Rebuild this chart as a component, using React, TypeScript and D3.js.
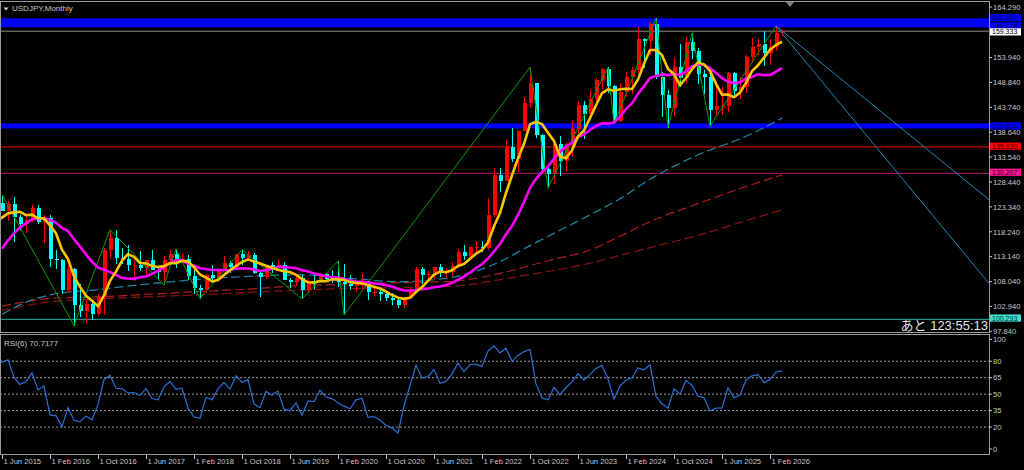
import React from 'react';
import * as d3 from 'd3';

// ---------- DATA (monthly USDJPY, starting Jun 2014; first visible bar Jun 2015) ----------
const firstMonth = '2014-06';
const opens = [
  101.8, 101.3, 102.8, 104.1, 109.6, 112.3, 118.6, 119.8, 117.5, 119.6, 120.1, 119.4,
  124.1, 122.5, 123.9, 121.2, 119.9, 120.6, 123.1, 120.2, 121.1, 112.7, 112.5, 106.3,
  110.7, 103.2, 102.0, 103.4, 101.3, 104.8, 114.4, 117.0, 112.8, 112.7, 111.4, 111.5,
  110.8, 112.4, 110.3, 110.0, 112.5, 113.7, 112.5, 112.7, 109.2, 106.7, 106.3, 109.3,
  108.8, 110.7, 111.9, 111.0, 113.7, 112.9, 113.4, 109.7, 108.9, 111.4, 110.8, 111.4,
  108.3, 107.9, 108.8, 106.3, 108.1, 108.0, 109.5, 108.6, 108.4, 107.9, 107.5, 107.2,
  107.8, 107.9, 105.9, 105.95, 105.5, 104.7, 104.3, 103.2, 104.7, 106.6, 110.7, 109.3,
  109.6, 111.1, 109.7, 110.0, 111.3, 114.0, 113.2, 115.1, 115.15, 115.0, 121.7, 129.8,
  128.7, 135.7, 133.2, 138.95, 144.7, 148.7, 138.1, 131.1, 130.1, 136.2, 132.8, 136.3,
  139.3, 144.3, 142.3, 145.5, 149.4, 151.65, 148.2, 141.0, 146.9, 150.0, 151.35, 157.8,
  157.3, 160.9, 150.0, 146.2, 143.6, 152.0, 149.7, 157.2, 155.2, 150.6, 149.9, 143.1,
  144.0, 144.05, 150.75, 147.05, 147.9, 154.0, 156.1, 156.7, 154.9, 156.0, 158.9,
];
const highs = [
  102.8, 103.1, 104.5, 110.1, 112.5, 119.0, 121.85, 120.8, 120.5, 122.0, 120.85, 124.46,
  125.86, 124.58, 125.28, 121.75, 121.5, 123.76, 123.68, 121.7, 121.7, 114.55, 112.67, 111.45,
  110.9, 107.49, 104.3, 104.19, 105.5, 114.83, 118.66, 118.6, 115.0, 115.5, 112.2, 114.37,
  112.47, 114.5, 111.05, 113.2, 114.45, 114.73, 113.75, 113.4, 110.5, 107.3, 109.6, 111.4,
  110.9, 113.2, 112.15, 113.7, 114.55, 114.2, 113.8, 110.0, 111.5, 112.1, 112.4, 112.0,
  108.8, 109.0, 109.3, 108.5, 109.3, 109.7, 109.7, 110.3, 112.23, 111.7, 109.4, 108.1,
  109.85, 108.2, 107.05, 106.55, 106.1, 105.7, 104.75, 104.9, 106.7, 110.95, 110.95, 110.2,
  111.1, 111.65, 110.8, 112.1, 114.7, 115.5, 115.2, 116.35, 116.3, 125.1, 131.25, 131.35,
  137.0, 139.4, 139.1, 145.9, 151.95, 148.8, 138.2, 131.6, 136.9, 137.9, 136.55, 140.9,
  145.05, 145.05, 147.35, 149.7, 151.7, 151.91, 148.3, 148.8, 150.9, 151.97, 160.2, 157.99,
  161.3, 161.95, 150.9, 147.2, 153.9, 156.75, 158.1, 158.87, 155.9, 151.3, 150.5, 148.65,
  148.0, 150.9, 150.9, 149.9, 154.45, 157.9, 157.8, 159.4, 157.7, 160.4, 159.6,
];
const lows = [
  101.1, 101.0, 101.5, 103.8, 105.2, 112.0, 115.6, 115.85, 116.9, 118.3, 118.5, 118.9,
  122.46, 120.41, 116.15, 118.6, 118.07, 120.2, 119.9, 115.98, 110.98, 110.66, 105.55, 105.99,
  99.02, 100.68, 99.55, 100.1, 100.9, 101.19, 112.9, 111.6, 111.6, 110.1, 108.1, 110.2,
  108.8, 110.6, 108.6, 107.32, 111.65, 110.8, 111.9, 108.3, 105.55, 104.56, 105.7, 108.1,
  108.1, 110.3, 109.8, 110.4, 111.4, 112.3, 109.6, 104.87, 108.5, 109.7, 110.8, 108.3,
  106.8, 107.2, 104.46, 105.7, 106.5, 107.9, 108.4, 107.65, 107.0, 101.18, 106.4, 105.98,
  106.1, 104.2, 105.1, 104.0, 104.0, 103.2, 102.6, 102.6, 104.4, 106.4, 107.5, 108.3,
  108.6, 109.05, 108.7, 109.1, 110.8, 112.5, 112.5, 113.5, 114.15, 114.6, 121.3, 126.35,
  128.6, 132.5, 130.4, 138.8, 143.5, 137.5, 130.5, 127.22, 128.1, 129.6, 130.6, 133.5,
  138.4, 137.2, 141.5, 144.4, 147.3, 146.7, 140.25, 140.8, 145.9, 146.5, 150.8, 151.85,
  154.5, 149.6, 141.7, 139.58, 142.0, 148.0, 148.6, 153.7, 148.6, 146.5, 139.89, 142.1,
  142.1, 142.7, 146.2, 145.5, 146.6, 152.8, 154.4, 152.1, 152.5, 155.3, 158.4,
];
const closes = [
  101.3, 102.8, 104.1, 109.6, 112.3, 118.6, 119.8, 117.5, 119.6, 120.1, 119.4, 124.1,
  122.5, 123.9, 121.2, 119.9, 120.6, 123.1, 120.2, 121.1, 112.7, 112.5, 106.3, 110.7,
  103.2, 102.0, 103.4, 101.3, 104.8, 114.4, 117.0, 112.8, 112.7, 111.4, 111.5, 110.8,
  112.4, 110.3, 110.0, 112.5, 113.7, 112.5, 112.7, 109.2, 106.7, 106.3, 109.3, 108.8,
  110.7, 111.9, 111.0, 113.7, 112.9, 113.4, 109.7, 108.9, 111.4, 110.8, 111.4, 108.3,
  107.9, 108.8, 106.3, 108.1, 108.0, 109.5, 108.6, 108.4, 107.9, 107.5, 107.2, 107.8,
  107.9, 105.9, 105.95, 105.5, 104.7, 104.3, 103.2, 104.7, 106.6, 110.7, 109.3, 109.6,
  111.1, 109.7, 110.0, 111.3, 114.0, 113.2, 115.1, 115.15, 115.0, 121.7, 129.8, 128.7,
  135.7, 133.2, 138.95, 144.7, 148.7, 138.1, 131.1, 130.1, 136.2, 132.8, 136.3, 139.3,
  144.3, 142.3, 145.5, 149.4, 151.65, 148.2, 141.0, 146.9, 150.0, 151.35, 157.8, 157.3,
  160.9, 150.0, 146.2, 143.6, 152.0, 149.7, 157.2, 155.2, 150.6, 149.9, 143.1, 144.0,
  144.05, 150.75, 147.05, 147.9, 154.0, 156.1, 156.7, 154.9, 156.0, 158.9, 159.333,
];

// Long dashed moving averages at sample months
const longMaMonths = ['2015-06', '2015-10', '2016-02', '2016-10', '2017-06', '2018-03', '2018-11', '2019-08', '2020-04', '2020-12', '2021-08', '2022-05', '2022-10', '2023-01', '2023-08', '2024-01', '2024-06', '2025-02', '2025-10', '2026-04'];
const maTeal = [101.3, 103.8, 105.3, 106.4, 107.5, 108.5, 109.1, 109.4, 108.7, 108.0, 108.7, 112.1, 115.4, 117.3, 121.7, 125.0, 129.0, 134.0, 137.8, 141.5];
const maRedUpper = [103.0, 103.9, 104.6, 104.9, 105.4, 106.0, 106.5, 107.2, 107.5, 107.8, 108.0, 109.7, 111.3, 112.3, 114.5, 117.3, 120.3, 124.0, 127.5, 129.9];
const maRedLower = [102.1, 103.1, 103.9, 104.5, 104.9, 105.3, 105.8, 106.3, 106.6, 106.8, 107.0, 108.4, 109.5, 110.1, 111.8, 113.4, 115.0, 117.5, 120.5, 122.7];

// ZigZag turning points
const zigMonths = ['2015-06', '2016-06', '2016-12', '2017-09', '2017-11', '2018-03', '2018-10', '2019-08', '2020-02', '2020-03', '2022-10', '2023-01', '2023-11', '2023-12', '2024-07', '2024-09', '2025-01', '2025-04', '2026-03'];
const zigPrices = [125.86, 99.02, 118.66, 107.32, 114.73, 104.56, 114.55, 104.46, 112.23, 101.18, 151.95, 127.22, 151.91, 140.25, 161.95, 139.58, 158.87, 139.89, 160.4];

// Fan lines from the last peak
const fanStartMonth = '2026-03';
const fanStartPrice = 160.4;
const fanEndMonth = '2029-02';
const fanEndPrices = [125.3, 108.4];

// Horizontal levels
const bandTop = 161.961;
const bandBottom = 160.478;
const bidPrice = 159.333;
const blueLevel = 139.604;
const redLevel = 135.63;
const pinkLevel = 130.207;
const tealLevel = 100.293;

const priceTicks = [164.29, 153.94, 148.84, 143.74, 138.64, 133.54, 128.44, 123.34, 118.24, 113.14, 108.04, 102.94, 97.84];
const rsiTicks = [100, 80, 65, 50, 35, 20, 0];
const rsiLevels = [80, 65, 50, 35, 20];
const timeLabels = ['1 Jun 2015', '1 Feb 2016', '1 Oct 2016', '1 Jun 2017', '1 Feb 2018', '1 Oct 2018', '1 Jun 2019', '1 Feb 2020', '1 Oct 2020', '1 Jun 2021', '1 Feb 2022', '1 Oct 2022', '1 Jun 2023', '1 Feb 2024', '1 Oct 2024', '1 Jun 2025', '1 Feb 2026'];

const titleText = 'USDJPY,Monthly';
const rsiText = 'RSI(6) 70.7177';
const timerText = 'あと 123:55:13';

// ---------- helpers ----------
const monthIdx = (s: string) => {
  const [y, m] = s.split('-').map(Number);
  return (y - 2015) * 12 + (m - 6);
};
const baseIdx = monthIdx(firstMonth);

function sma(vals: number[], n: number): (number | null)[] {
  return vals.map((_, k) => (k < n - 1 ? null : (d3.mean(vals.slice(k - n + 1, k + 1)) as number)));
}
function rsi(vals: number[], n: number): (number | null)[] {
  const out: (number | null)[] = vals.map(() => null);
  let ag = 0, al = 0;
  for (let k = 1; k <= n; k++) {
    const d = vals[k] - vals[k - 1];
    ag += Math.max(d, 0);
    al += Math.max(-d, 0);
  }
  ag /= n; al /= n;
  out[n] = al === 0 ? 100 : 100 - 100 / (1 + ag / al);
  for (let k = n + 1; k < vals.length; k++) {
    const d = vals[k] - vals[k - 1];
    ag = (ag * (n - 1) + Math.max(d, 0)) / n;
    al = (al * (n - 1) + Math.max(-d, 0)) / n;
    out[k] = al === 0 ? 100 : 100 - 100 / (1 + ag / al);
  }
  return out;
}

const FONT = "Tahoma, 'Liberation Sans', 'DejaVu Sans', sans-serif";
const AXIS_COLOR = '#c8c8c8';
const FRAME = '#9a9a9a';

export default function App() {
  const W = 1024, H = 470;
  const PANEL_R = 989;
  const x = d3.scaleLinear().domain([0, 1]).range([2, 8]);
  const y = d3.scaleLinear().domain([97.84, 164.29]).range([331.3, 7]);
  const yr = d3.scaleLinear().domain([0, 100]).range([449, 339.3]);

  const bars = closes.map((c, k) => ({
    i: baseIdx + k, o: opens[k], h: highs[k], l: lows[k], c,
  }));
  const ma5 = sma(closes, 5);
  const ma13 = sma(closes, 13);
  const rsi6 = rsi(closes, 6);

  type P = { i: number; v: number | null };
  const lineP = d3.line<P>().defined(d => d.v != null).x(d => x(d.i)).y(d => y(d.v as number));
  const lineR = d3.line<P>().defined(d => d.v != null).x(d => x(d.i)).y(d => yr(d.v as number));
  const smooth = d3.line<P>().x(d => x(d.i)).y(d => y(d.v as number)).curve(d3.curveMonotoneX);

  const ser = (arr: (number | null)[]) => arr.map((v, k) => ({ i: baseIdx + k, v }));
  const longSer = (arr: number[]) => arr.map((v, k) => ({ i: monthIdx(longMaMonths[k]), v }));
  const zig = zigMonths.map((m, k) => ({ i: monthIdx(m), v: zigPrices[k] }));

  const parse = d3.timeParse('%d %b %Y');
  const timeTicks = timeLabels.map(t => {
    const d = parse(t) as Date;
    return { t, i: d3.timeMonth.count(new Date(2015, 5, 1), d) };
  });

  const boxes = [
    { p: bandTop, bg: '#0000ff', fg: '#000040', dy: -0.6 },
    { p: bandBottom, bg: '#0000ff', fg: '#000040', dy: 0.4 },
    { p: bidPrice, bg: '#ffffff', fg: '#000000', dy: 0.8 },
    { p: blueLevel, bg: '#0000ff', fg: '#000040', dy: -1.4 },
    { p: redLevel, bg: '#ff0000', fg: '#400000', dy: -0.6 },
    { p: pinkLevel, bg: '#ff1493', fg: '#300010', dy: -1 },
    { p: tealLevel, bg: '#40e0d0', fg: '#003030', dy: -1.2 },
  ];

  return (
    <svg width={W} height={H} style={{ position: 'fixed', left: 0, top: 0, background: '#000' }}
      fontFamily={FONT}>
      <rect x={0} y={0} width={W} height={H} fill="#000" />
      <defs>
        <clipPath id="mainClip"><rect x={1} y={2} width={PANEL_R - 1} height={330} /></clipPath>
        <clipPath id="rsiClip"><rect x={1} y={335} width={PANEL_R - 1} height={119} /></clipPath>
      </defs>

      {/* main panel */}
      <g clipPath="url(#mainClip)">
        {/* horizontal levels */}
        <rect x={0} y={y(bandTop)} width={PANEL_R} height={y(bandBottom) - y(bandTop) + 1.7} fill="#0000ff" />
        <line x1={0} x2={PANEL_R} y1={y(bidPrice)} y2={y(bidPrice)} stroke="#8c8c8c" strokeWidth={1} />
        <rect x={0} y={y(blueLevel) - 4} width={PANEL_R} height={5} fill="#0000ff" />
        <line x1={0} x2={PANEL_R} y1={y(redLevel)} y2={y(redLevel)} stroke="#8b0000" strokeWidth={1.6} />
        <line x1={0} x2={PANEL_R} y1={y(pinkLevel)} y2={y(pinkLevel)} stroke="#c0157a" strokeWidth={1} />
        <line x1={0} x2={PANEL_R} y1={y(tealLevel)} y2={y(tealLevel)} stroke="#20b2aa" strokeWidth={1} />

        {/* long dashed MAs */}
        <path d={smooth(longSer(maRedLower)) || ''} fill="none" stroke="#8b1010" strokeWidth={1.2} strokeDasharray="9,4" />
        <path d={smooth(longSer(maRedUpper)) || ''} fill="none" stroke="#b01c1c" strokeWidth={1.2} strokeDasharray="9,4" />
        <path d={smooth(longSer(maTeal)) || ''} fill="none" stroke="#1f86a8" strokeWidth={1.2} strokeDasharray="9,4" />

        {/* candles */}
        <g shapeRendering="crispEdges">
          {bars.map(b => {
            const bull = b.c >= b.o;
            const col = bull ? '#ff0000' : '#00ffff';
            const cx = Math.round(x(b.i));
            const top = y(Math.max(b.o, b.c));
            const bot = y(Math.min(b.o, b.c));
            return (
              <g key={b.i}>
                <line x1={cx + 0.5} x2={cx + 0.5} y1={y(b.h)} y2={y(b.l)} stroke={col} strokeWidth={1} />
                <rect x={cx - 1.5} y={top} width={4} height={Math.max(1, bot - top)} fill={col} />
              </g>
            );
          })}
        </g>

        {/* zigzag */}
        <path d={lineP(zig) || ''} fill="none" stroke="#00a000" strokeWidth={1} />

        {/* moving averages */}
        <path d={lineP(ser(ma13)) || ''} fill="none" stroke="#ff00ff" strokeWidth={2.6} strokeLinejoin="round" />
        <path d={lineP(ser(ma5)) || ''} fill="none" stroke="#ffc400" strokeWidth={2.6} strokeLinejoin="round" />

        {/* fan lines */}
        {fanEndPrices.map((p, k) => {
          const x1 = x(monthIdx(fanStartMonth)), y1 = y(fanStartPrice);
          const x2 = x(monthIdx(fanEndMonth)), y2 = y(p);
          const t = (PANEL_R - x1) / (x2 - x1);
          return <line key={k} x1={x1} y1={y1} x2={PANEL_R} y2={y1 + (y2 - y1) * t} stroke="#1a8cb0" strokeWidth={1} />;
        })}
      </g>

      {/* timer text */}
      <text x={988} y={330} textAnchor="end" fontSize={13}
        fontFamily="'Liberation Sans', 'Noto Sans CJK JP', sans-serif" fill="#e6e6e6">{timerText}</text>

      {/* title */}
      <path d="M3.5,7.5 L8.5,7.5 L6,10.5 Z" fill="#d0d0d0" />
      <text x={12} y={11} fontSize={8} fill={AXIS_COLOR}>{titleText}</text>
      {/* chart shift marker */}
      <path d="M786,2 L794,2 L790,7 Z" fill="#808080" />

      {/* frames */}
      <g fill="none" stroke={FRAME} strokeWidth={1} shapeRendering="crispEdges">
        <rect x={0.5} y={1.5} width={PANEL_R} height={331} />
        <rect x={0.5} y={334.5} width={PANEL_R} height={120} />
      </g>

      {/* right price axis */}
      <g fontSize={7.6} fill={AXIS_COLOR}>
        {priceTicks.map(p => (
          <g key={p}>
            <line x1={PANEL_R} x2={PANEL_R + 3} y1={y(p)} y2={y(p)} stroke={AXIS_COLOR} />
            <text x={993} y={y(p) + 2.8}>{p.toFixed(3)}</text>
          </g>
        ))}
      </g>
      <g fontSize={7}>
        {boxes.map((b, k) => (
          <g key={k}>
            <rect x={990} y={y(b.p) + b.dy - 3.7} width={31} height={7.2} fill={b.bg} />
            <text x={992} y={y(b.p) + b.dy + 2.5} fill={b.fg}>{b.p.toFixed(3)}</text>
          </g>
        ))}
      </g>

      {/* RSI panel */}
      <g clipPath="url(#rsiClip)">
        {rsiLevels.map(v => (
          <line key={v} x1={0} x2={PANEL_R} y1={yr(v)} y2={yr(v)} stroke="#a0a0a0" strokeWidth={1} strokeDasharray="2,2" />
        ))}
        <path d={lineR(ser(rsi6)) || ''} fill="none" stroke="#2a6fd6" strokeWidth={1.2} />
      </g>
      <text x={4} y={346} fontSize={8} fill={AXIS_COLOR}>{rsiText}</text>
      <g fontSize={7.6} fill={AXIS_COLOR}>
        {rsiTicks.map(v => (
          <g key={v}>
            <line x1={PANEL_R} x2={PANEL_R + 3} y1={yr(v)} y2={yr(v)} stroke={AXIS_COLOR} />
            <text x={993} y={yr(v) + 2.8}>{v}</text>
          </g>
        ))}
      </g>

      {/* time axis */}
      <g fontSize={7.6} fill={AXIS_COLOR}>
        {timeTicks.map(t => (
          <g key={t.t}>
            <line x1={x(t.i) + 0.5} x2={x(t.i) + 0.5} y1={455} y2={459} stroke={AXIS_COLOR} />
            <text x={x(t.i) + 1.5} y={464}>{t.t}</text>
          </g>
        ))}
      </g>
    </svg>
  );
}
